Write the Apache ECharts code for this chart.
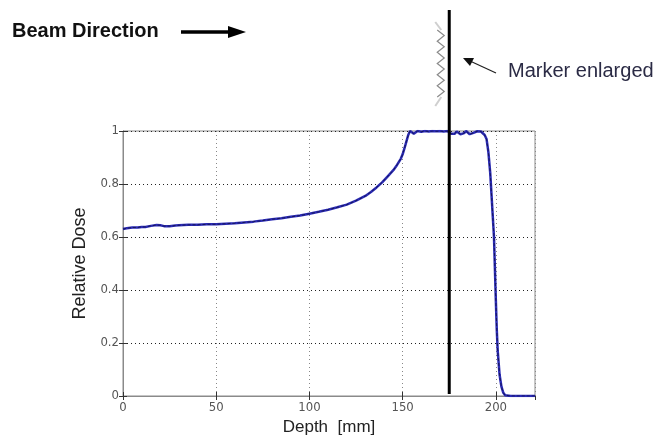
<!DOCTYPE html>
<html>
<head>
<meta charset="utf-8">
<script src="https://cdn.jsdelivr.net/npm/echarts@6/dist/echarts.min.js"></script>
<style>
html,body{margin:0;padding:0;background:#fff;}
#chart{width:662px;height:439px;}
</style>
</head>
<body>
<div id="chart"></div>
<script>
// Depth (mm)
var depth = [0,2,5,8,10,12,15,18,20,22,25,28,30,35,40,45,50,55,60,65,70,75,80,85,90,95,100,105,110,115,120,125,130,133,136,139,142,145,147,149,150,151,152,153,154,155,156,157,158,160,162,164,166,168,170,172,174,175,176,177,178,179,180,181,182,183,184,185,186,187,188,189,190,191,192,193,194,195,196,197,198,199,199.5,200,200.5,201,202,203,204,205,206,208,210,215,221];
// Relative dose
var dose = [0.630,0.633,0.636,0.636,0.638,0.638,0.642,0.645,0.644,0.641,0.641,0.643,0.644,0.646,0.646,0.648,0.648,0.650,0.652,0.655,0.658,0.662,0.667,0.671,0.676,0.681,0.688,0.695,0.703,0.712,0.722,0.737,0.755,0.770,0.787,0.806,0.829,0.852,0.872,0.895,0.912,0.935,0.960,0.985,1.0,0.998,0.990,0.995,1.0,0.997,1.0,0.998,1.0,0.999,1.0,0.998,1.0,0.997,0.990,0.985,0.990,0.998,0.995,0.988,0.985,0.992,1.0,0.996,0.988,0.985,0.993,1.0,0.999,1.0,0.998,0.995,0.985,0.970,0.920,0.840,0.720,0.600,0.480,0.360,0.250,0.170,0.080,0.035,0.012,0.003,0,0,0,0,0];
var xTicks = [0,50,100,150,200];
var yTicks = [0,0.2,0.4,0.6,0.8,1];
var markerDepth = 175;

var chart = echarts.init(document.getElementById('chart'));
var tickFont = "'DejaVu Sans Condensed','Liberation Sans Narrow',sans-serif";
var nameFont = "'Liberation Sans',Arial,sans-serif";
var pts = depth.map(function(d,i){return [d,dose[i]];});

chart.setOption({
  animation:false,
  backgroundColor:'#fff',
  grid:{left:123,right:127,top:131,bottom:43,outerBoundsMode:'none',containLabel:false,show:true,borderColor:'#8a8a8a',borderWidth:1,backgroundColor:'transparent'},
  xAxis:[{
    type:'value',min:0,max:221,interval:50,
    name:'Depth  [mm]',nameLocation:'middle',nameGap:22,
    nameTextStyle:{fontSize:17,color:'#222',fontFamily:nameFont},
    axisLine:{show:true,lineStyle:{color:'#8a8a8a'}},
    axisTick:{show:true,inside:true,length:4,lineStyle:{color:'#333'}},
    axisLabel:{fontSize:13,color:'#555',fontFamily:tickFont,margin:5,showMaxLabel:false,
      formatter:function(v){return xTicks.indexOf(v)>=0?String(v):'';}},
    splitLine:{show:true,lineStyle:{color:'#888',type:[1,3],width:1}}
  },{
    type:'value',position:'top',min:0,max:221,interval:50,
    axisLine:{show:true,lineStyle:{color:'#8a8a8a'}},
    axisTick:{show:true,inside:true,length:4,lineStyle:{color:'#333'}},
    axisLabel:{show:false},splitLine:{show:false}
  }],
  yAxis:[{
    type:'value',min:0,max:1,interval:0.2,
    name:'Relative Dose',nameLocation:'middle',nameGap:30,
    nameTextStyle:{fontSize:18,color:'#222',fontFamily:nameFont},
    axisLine:{show:true,lineStyle:{color:'#8a8a8a'}},
    axisTick:{show:true,inside:true,length:4,lineStyle:{color:'#333'}},
    axisLabel:{fontSize:13,color:'#555',fontFamily:tickFont,margin:4,
      formatter:function(v){var r=Math.round(v*10)/10;return yTicks.indexOf(r)>=0?String(r):'';}},
    splitLine:{show:true,lineStyle:{color:'#222',type:[1,3],width:1}}
  },{
    type:'value',position:'right',min:0,max:1,interval:0.2,
    axisLine:{show:true,lineStyle:{color:'#8a8a8a'}},
    axisTick:{show:true,inside:true,length:4,lineStyle:{color:'#333'}},
    axisLabel:{show:false},splitLine:{show:false}
  }],
  series:[{
    type:'line',data:pts,showSymbol:false,symbol:'none',
    lineStyle:{color:'#2b2bb5',width:2.5},
    z:3
  },{
    type:'line',data:pts,showSymbol:false,symbol:'none',
    lineStyle:{color:'#101040',width:0.8,type:[3,2]},
    z:4
  }]
});

var mx = chart.convertToPixel({xAxisIndex:0},markerDepth);
var yBottom = chart.convertToPixel({yAxisIndex:0},0);

// zigzag points relative to the marker line
var zz = [];
var zTop = 30, zBot = 97, n = 12;
for (var i=0;i<=n;i++){
  zz.push([mx + (i%2===0 ? -12 : -5), zTop + (zBot-zTop)*i/n]);
}

chart.setOption({
  graphic:[
    {type:'text',left:12,top:21,style:{text:'Beam Direction',font:"bold 20px 'Liberation Sans',Arial,sans-serif",fill:'#111'}},
    {type:'line',shape:{x1:181,y1:32,x2:232,y2:32},style:{stroke:'#000',lineWidth:3.5}},
    {type:'polygon',shape:{points:[[228,26],[246,32],[228,38]]},style:{fill:'#000'}},
    {type:'polyline',shape:{points:zz},style:{stroke:'#8a8a8a',lineWidth:1.2,fill:null}},
    {type:'line',shape:{x1:mx-14,y1:22,x2:mx-8,y2:30},style:{stroke:'#cfcfcf',lineWidth:2}},
    {type:'line',shape:{x1:mx-8,y1:97,x2:mx-14,y2:106},style:{stroke:'#cfcfcf',lineWidth:2}},
    {type:'line',shape:{x1:mx,y1:10,x2:mx,y2:yBottom-2},style:{stroke:'#000',lineWidth:3},z:10},
    {type:'line',shape:{x1:496,y1:73,x2:470,y2:61},style:{stroke:'#222',lineWidth:1.3}},
    {type:'polygon',shape:{points:[[463,58],[474,58],[470,66]]},style:{fill:'#111'}},
    {type:'text',left:508,top:61,style:{text:'Marker enlarged',font:"20px 'Liberation Sans',Arial,sans-serif",fill:'#2b2b45'}}
  ]
});
</script>
</body>
</html>
